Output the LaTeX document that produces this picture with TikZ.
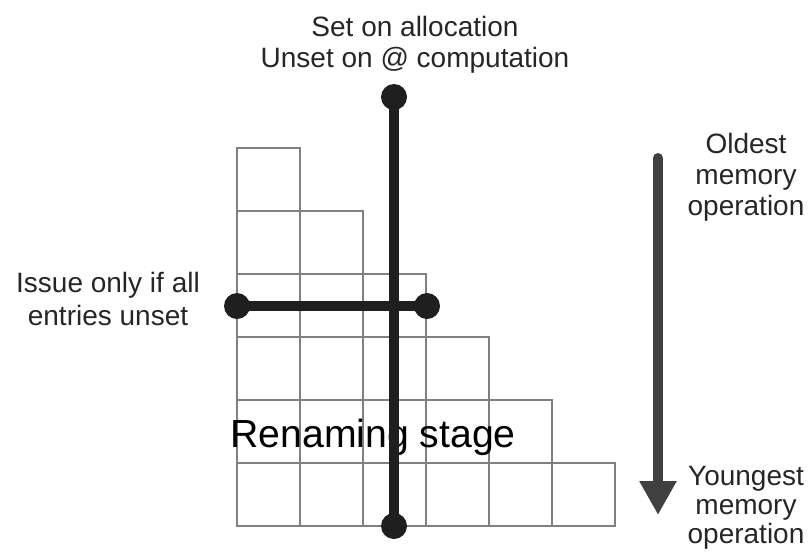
\documentclass[tikz,border=0pt]{standalone}
\usepackage{fontspec}
\setmainfont{Liberation Sans}
\usepackage{tikz}
\usetikzlibrary{arrows.meta}
\tikzset{
  cell/.style   = {draw=black!50, line width=0.75pt},
  pin/.style    = {shape=circle, fill=black!88, inner sep=0pt, minimum size=13pt},
  bar/.style    = {draw=black!88, line width=5pt},
  caption/.style = {align=center, inner sep=0pt, text=black!85,
                    font=\fontsize{14}{15.5}\selectfont},
  stage/.style  = {inner sep=0pt, font=\fontsize{19.6}{22}\selectfont},
  age/.style    = {draw=black!75, line width=5pt, line cap=round,
                   -{Triangle[width=17.5pt,length=17pt]}}
}
\begin{document}
\begin{tikzpicture}
  [
    x = 0.5pt,
    y = -0.5pt
  ]
  \useasboundingbox (0,0) rectangle (808,558);
  \foreach \r in {1,...,6}
    \foreach \c in {1,...,\r}
      \draw [cell] ({237+63*(\c-1)},{148+63*(\r-1)}) rectangle +(63,63);
  \node [stage, anchor=base west] (stagelbl) at (230,447) {Renaming stage};
  \node [pin] (bittop)    at (394,97)  {};
  \node [pin] (bitbottom) at (394,526) {};
  \node [pin] (rowleft)   at (237,306) {};
  \node [pin] (rowright)  at (427,306) {};
  \draw [bar] (bittop.center) -- (bitbottom.center);
  \draw [bar] (rowleft.center) -- (rowright.center);
  \coordinate (oldest)   at (658,158);
  \coordinate (youngest) at (658,515);
  \draw [age] (oldest) -- (youngest);
  \node [caption, anchor=base] (setlbl)   at (415,67)  {Set on allocation\\Unset on @ computation};
  \node [caption, anchor=base, font=\fontsize{14}{16.5}\selectfont]
        (issuelbl) at (108,325) {Issue only if all\\entries unset};
  \node [caption, anchor=base] (oldlbl)   at (746,215) {Oldest\\memory\\operation};
  \node [caption, anchor=base, font=\fontsize{14}{14.5}\selectfont]
        (younglbl) at (746,543) {Youngest\\memory\\operation};
\end{tikzpicture}
\end{document}
